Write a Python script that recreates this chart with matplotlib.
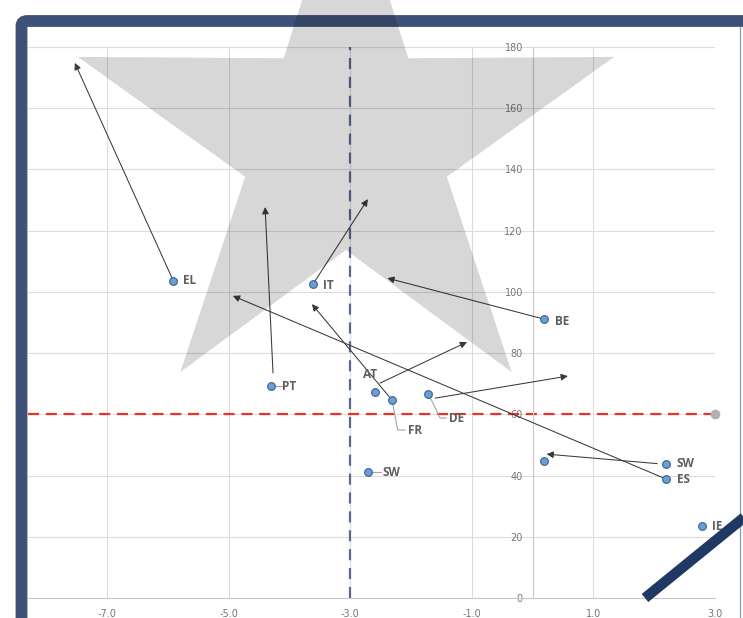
import numpy as np
import matplotlib.pyplot as plt
from matplotlib.lines import Line2D
from matplotlib.patches import Polygon, FancyBboxPatch

W, H = 743, 618

# countries: current position
countries = ["EL", "IT", "PT", "BE", "AT", "FR", "DE", "SW", "SW", "ES", "IE", ""]
pos_x = [-5.91, -3.61, -4.30, 0.19, -2.60, -2.31, -1.72, -2.70, 2.19, 2.19, 2.79, 0.19]
pos_y = [103.6, 102.6, 69.3, 91.1, 67.3, 64.6, 66.6, 41.2, 43.8, 38.9, 23.5, 44.8]

# trajectories (from -> to)
arr_x0 = [-5.91, -3.61, -4.27, 0.19, -2.51, -2.31, -1.60, 2.05, 2.19]
arr_y0 = [103.6, 102.6, 73.5, 91.1, 70.2, 64.6, 65.3, 43.9, 38.9]
arr_x1 = [-7.53, -2.71, -4.40, -2.39, -1.08, -3.63, 0.58, 0.23, -4.93]
arr_y1 = [174.8, 130.3, 127.7, 104.5, 83.6, 96.0, 72.5, 47.0, 98.7]

x_ticks = [-7.0, -5.0, -3.0, -1.0, 1.0, 3.0]
y_ticks = [0, 20, 40, 60, 80, 100, 120, 140, 160, 180]
x_ref = -3.0
y_ref = 60

# label offsets in pixels (dx, dy)
label_off = {0: (10, 0), 1: (10, -2), 2: (11, -1), 3: (11, -2), 4: (-4, 17),
             7: (14, -1), 8: (11, 0), 9: (11, -1), 10: (10, 0)}


def fig_px(x, y):
    return x / W, 1 - y / H


fig = plt.figure(figsize=(W / 100, H / 100), dpi=100)
fig.patch.set_facecolor("white")
l, b = fig_px(28, 598)
r, t = fig_px(715, 47)
ax = fig.add_axes([l, b, r - l, t - b])
ax.set_xlim(-8.3, 3.0)
ax.set_ylim(0, 180)

for s in ["top", "right"]:
    ax.spines[s].set_visible(False)
ax.spines["left"].set_position(("data", 0))
ax.spines["left"].set_color("#c8c8c8")
ax.spines["bottom"].set_color("#c8c8c8")
ax.set_xticks(x_ticks)
ax.set_yticks(y_ticks)
ax.set_xticklabels(["%.1f" % v for v in x_ticks])
ax.tick_params(length=0, labelsize=7, labelcolor="#767676")
ax.tick_params(axis="x", pad=8)
ax.tick_params(axis="y", pad=7)
ax.grid(True, color="#dcdcdc", lw=0.8)
ax.set_axisbelow(True)
ax.axhline(180, color="#dcdcdc", lw=0.8, zorder=0)

# reference lines
ax.plot([x_ref, x_ref], [0, 180], color="#5a6a8c", lw=1.6, dashes=(5, 3.5), zorder=2)
ax.plot([-8.3, 3.0], [y_ref, y_ref], color="#e8342c", lw=1.6, dashes=(5, 3), zorder=2)
ax.plot([3.0], [y_ref], "o", color="#b0b0b0", ms=6, zorder=3, clip_on=False)

for x0, y0, x1, y1 in zip(arr_x0, arr_y0, arr_x1, arr_y1):
    ax.annotate("", xy=(x1, y1), xytext=(x0, y0),
                arrowprops=dict(arrowstyle="-|>", color="#3a3a3a", lw=0.75,
                                mutation_scale=10, shrinkA=0, shrinkB=0),
                zorder=3)

ax.plot(pos_x, pos_y, "o", ms=5.5, mfc="#6d9fd5", mec="#3d6a9a", mew=0.9, zorder=4, clip_on=False)

lab_font = dict(family="Open Sans", fontsize=8.5, fontweight="bold", color="#5f5f5f")
for i, (name, x, y) in enumerate(zip(countries, pos_x, pos_y)):
    if i not in label_off:
        continue
    dx, dy = label_off[i]
    ha = "center" if name == "AT" else "left"
    ax.annotate(name, (x, y), xytext=(dx * 0.72, dy * 0.72), textcoords="offset points",
                ha=ha, va="center", zorder=5, **lab_font)

# leader lines
lead = "#a6a6a6"
ax.plot([-2.30, -2.22, -2.10], [63.4, 54.9, 54.9], color=lead, lw=0.8, zorder=3)
ax.text(-2.05, 54.6, "FR", ha="left", va="center", zorder=5, **lab_font)
ax.plot([-1.69, -1.52, -1.42], [65.7, 58.8, 58.8], color=lead, lw=0.8, zorder=3)
ax.text(-1.37, 58.5, "DE", ha="left", va="center", zorder=5, **lab_font)
ax.plot([-4.22, -4.12], [69.3, 69.3], color=lead, lw=0.8, zorder=3)
ax.plot([-2.62, -2.50], [41.2, 41.2], color=lead, lw=0.8, zorder=3)

# frame
fx, fy = fig_px(21.5, 21)
frame = FancyBboxPatch((fx, -0.2), 1.2, fy + 0.2,
                       boxstyle="round,pad=0,rounding_size=0.008",
                       transform=fig.transFigure, fill=False,
                       ec="#3e5279", lw=8.5, zorder=5)
fig.patches.append(frame)
fig.add_artist(Line2D([740 / W, 740 / W], [0, 1 - 27 / H], transform=fig.transFigure,
                      color="#8fa0bb", lw=1, zorder=5))

# star
cx, cy, R, rr = 346, 144, 282, 106
ang = np.deg2rad(90 + 36 * np.arange(10))
rad = np.where(np.arange(10) % 2 == 0, R, rr)
star = [fig_px(cx + q * np.cos(a), cy - q * np.sin(a)) for q, a in zip(rad, ang)]
fig.patches.append(Polygon(star, closed=True, transform=fig.transFigure,
                           fc="black", ec="none", alpha=0.155, zorder=6))

# diagonal bar
fig.add_artist(Line2D([645 / W, 790 / W], [1 - 598 / H, 1 - 480 / H],
                      transform=fig.transFigure, color="#1f3864", lw=7.5,
                      solid_capstyle="butt", zorder=7))

fig.savefig("out.png", dpi=100)
